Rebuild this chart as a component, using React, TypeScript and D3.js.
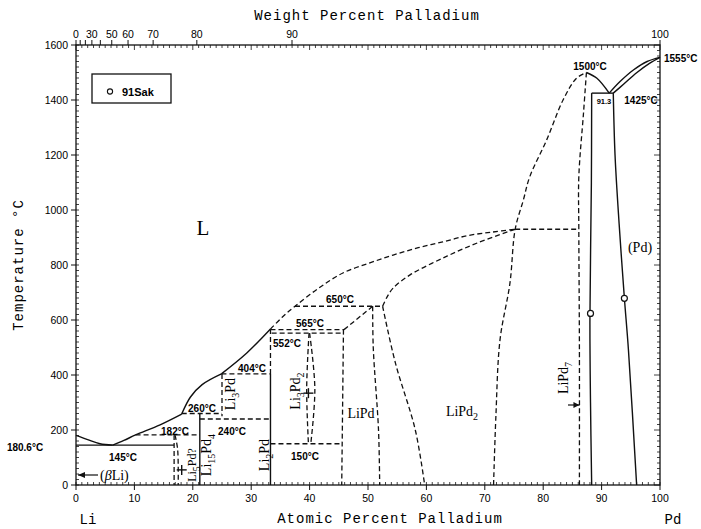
import React from 'react';
import * as d3 from 'd3';

type P = [number, number];

// ---- axis ticks ----
const tempTicks = [0, 200, 400, 600, 800, 1000, 1200, 1400, 1600];
const atTicks = [0, 10, 20, 30, 40, 50, 60, 70, 80, 90, 100];
const wtTicks = [0, 10, 20, 30, 40, 50, 60, 70, 80, 90, 100];
const wtLabels = [0, 30, 50, 60, 70, 80, 90, 100];

// ---- phase boundaries (at.% Pd, °C) ----
const liqLiEnd: P[] = [[0, 180.6], [2, 165], [4.1, 150], [6.3, 145]];
const liqA: P[] = [[6.3, 145], [8.2, 162], [10.2, 182], [14.4, 219], [18.1, 258]];
const liqB: P[] = [[18.1, 258], [19.6, 320], [21.6, 365], [24.9, 404]];
const liqC: P[] = [[24.9, 404], [29.2, 479], [33.3, 567]];
const liqUpper: P[] = [[33.3, 567], [35.3, 610], [37.5, 650], [41.5, 715], [45.7, 771], [50.1, 806], [54.3, 836], [58.6, 863], [62.8, 884], [67.1, 907], [71.4, 920], [75.2, 930]];
const liqLower: P[] = [[52.5, 650], [53.3, 685], [54.3, 716], [57.2, 764], [62.8, 825], [68.7, 880], [75.2, 930]];
const domeLeft: P[] = [[71.5, 0], [71.9, 250], [72.6, 527], [74.3, 733], [75.2, 930], [76.6, 1036], [77.7, 1121], [80.6, 1255], [83.4, 1400], [85.7, 1479], [87.4, 1500]];
const domeInner: P[] = [[87.4, 1500], [86.9, 1352], [86.1, 1121], [86.1, 930], [86.2, 500], [86.2, 0]];
const peakRight: P[] = [[87.4, 1500], [89.2, 1479], [91.3, 1425]];
const pdLiquidus: P[] = [[91.3, 1425], [93.2, 1468], [95.5, 1510], [97.8, 1540], [100, 1555]];
const pdSolidus: P[] = [[92, 1425], [93.8, 1458], [96, 1499], [98.2, 1533], [100, 1555]];
const lipd7Right: P[] = [[88.3, 1425], [88.25, 1100], [88.0, 600], [88.1, 300], [88.3, 0]];
const pdSolvus: P[] = [[92, 1425], [92.3, 1200], [93.0, 950], [93.9, 680], [94.6, 490], [96, 0]];
const lipdRight: P[] = [[50.8, 650], [50.9, 500], [51.8, 200], [52, 0]];
const lipd2Left: P[] = [[52.5, 650], [54.7, 443], [58.1, 200], [59.7, 0]];
const li5pdRight: P[] = [[16.95, 182], [17.4, 130], [17.5, 0]];
const li3pd2Left: P[] = [[39.9, 552], [39.5, 350], [39.8, 150]];
const li3pd2Right: P[] = [[40.0, 552], [40.9, 350], [40.2, 150]];

// straight segments [x1,T1,x2,T2]
const solidSegs: [number, number, number, number][] = [
  [0, 145, 16.8, 145],
  [88.3, 1425, 92, 1425],
  [21.2, 258, 21.2, 0],
  [33.3, 404, 33.3, 0],
];
const dashedSegs: [number, number, number, number][] = [
  [10.2, 182, 21.2, 182],
  [18.1, 260, 25, 260],
  [21.2, 240, 33.3, 240],
  [24.9, 404, 33.3, 404],
  [33.3, 565, 45.9, 565],
  [33.5, 552, 45.6, 552],
  [33.3, 150, 45.6, 150],
  [37.5, 650, 52.5, 650],
  [75.2, 930, 86.1, 930],
  [16.8, 182, 16.8, 0],
  [25, 404, 25, 250],
  [33.3, 567, 33.3, 404],
  [45.8, 565, 45.5, 0],
  [45.9, 565, 50.8, 650],
];

const dataPoints: P[] = [[88.1, 624], [93.9, 679]];
const crossMarks: P[] = [[18.1, 55], [39.8, 334]];

const W = 701, H = 529;
const x = d3.scaleLinear().domain([0, 100]).range([76, 660]);
const y = d3.scaleLinear().domain([0, 1600]).range([485, 45]);

// weight % -> atomic % (Li 6.941, Pd 106.42)
const wtToAt = (w: number) => {
  const a = w / 106.42, b = (100 - w) / 6.941;
  return (100 * a) / (a + b);
};

const curve = d3.line<P>().x(d => x(d[0])).y(d => y(d[1])).curve(d3.curveCatmullRom.alpha(0.5));

const serif = '"Liberation Serif", "DejaVu Serif", serif';
const sans = '"Liberation Sans", Arial, sans-serif';
const mono = '"Liberation Mono", "DejaVu Sans Mono", monospace';
const DASH = '5,3';

// chemical formula: alternating normal / subscript parts
function Chem({ parts }: { parts: string[] }) {
  const out: React.ReactNode[] = [];
  let shifted = false;
  parts.forEach((p, i) => {
    const isSub = i % 2 === 1;
    if (!p) return;
    if (isSub) {
      out.push(<tspan key={i} dy={shifted ? 0 : 4} fontSize="10">{p}</tspan>);
      shifted = true;
    } else {
      out.push(<tspan key={i} dy={shifted ? -4 : 0}>{p}</tspan>);
      shifted = false;
    }
  });
  return <>{out}</>;
}

export default function App() {
  const minorAt = d3.range(0, 101, 1);
  const minorT = d3.range(0, 1601, 20);
  const stroke = '#111';
  return (
    <svg width={W} height={H} style={{ position: 'absolute', left: 0, top: 0, background: '#fff' }}>
      <rect x={0} y={0} width={W} height={H} fill="#fff" />
      {/* frame */}
      <rect x={x(0)} y={y(1600)} width={x(100) - x(0)} height={y(0) - y(1600)} fill="none" stroke={stroke} strokeWidth={1.3} />

      {/* bottom axis */}
      {minorAt.map(v => (
        <line key={'bm' + v} x1={x(v)} x2={x(v)} y1={y(0)} y2={y(0) - 3} stroke={stroke} strokeWidth={0.8} />
      ))}
      {atTicks.map(v => (
        <g key={'bt' + v}>
          <line x1={x(v)} x2={x(v)} y1={y(0)} y2={y(0) + 5} stroke={stroke} strokeWidth={1} />
          <text x={x(v)} y={502} fontSize={10.5} fontFamily={sans} textAnchor="middle">{v}</text>
        </g>
      ))}

      {/* top axis */}
      {minorAt.map(v => (
        <line key={'tm' + v} x1={x(v)} x2={x(v)} y1={y(1600)} y2={y(1600) + (v % 10 === 0 ? 5 : 3)} stroke={stroke} strokeWidth={0.8} />
      ))}
      {wtTicks.map(w => (
        <line key={'tw' + w} x1={x(wtToAt(w))} x2={x(wtToAt(w))} y1={y(1600)} y2={y(1600) - 5} stroke={stroke} strokeWidth={1} />
      ))}
      {wtLabels.map(w => (
        <text key={'twl' + w} x={x(wtToAt(w))} y={38} fontSize={10.5} fontFamily={sans} textAnchor="middle">{w}</text>
      ))}

      {/* left axis */}
      {minorT.map(v => (
        <line key={'lm' + v} x1={x(0)} x2={x(0) + 3} y1={y(v)} y2={y(v)} stroke={stroke} strokeWidth={0.8} />
      ))}
      {tempTicks.map(v => (
        <g key={'lt' + v}>
          <line x1={x(0) - 5} x2={x(0)} y1={y(v)} y2={y(v)} stroke={stroke} strokeWidth={1} />
          <text x={68} y={y(v) + 3.5} fontSize={10.5} fontFamily={sans} textAnchor="end">{v}</text>
        </g>
      ))}
      {/* right axis */}
      {minorT.map(v => (
        <line key={'rm' + v} x1={x(100)} x2={x(100) - (v % 200 === 0 ? 6 : 3)} y1={y(v)} y2={y(v)} stroke={stroke} strokeWidth={0.8} />
      ))}

      {/* axis titles */}
      <text x={367} y={20} fontSize={14} fontFamily={mono} letterSpacing={1} textAnchor="middle">Weight Percent Palladium</text>
      <text x={390} y={523} fontSize={14} fontFamily={mono} letterSpacing={1} textAnchor="middle">Atomic Percent Palladium</text>
      <text x={88} y={524} fontSize={14} fontFamily={mono} textAnchor="middle">Li</text>
      <text x={673} y={524} fontSize={14} fontFamily={mono} textAnchor="middle">Pd</text>
      <text transform="translate(23,265) rotate(-90)" fontSize={14} fontFamily={mono} letterSpacing={1} textAnchor="middle">Temperature °C</text>

      {/* solid curves */}
      {[liqLiEnd, liqA, liqB, liqC, peakRight, pdLiquidus, pdSolidus, lipd7Right, pdSolvus].map((c, i) => (
        <path key={'sc' + i} d={curve(c) || ''} fill="none" stroke={stroke} strokeWidth={1.4} />
      ))}
      {solidSegs.map((s, i) => (
        <line key={'ss' + i} x1={x(s[0])} y1={y(s[1])} x2={x(s[2])} y2={y(s[3])} stroke={stroke} strokeWidth={1.4} />
      ))}
      {/* dashed curves */}
      {[liqUpper, liqLower, domeLeft, domeInner, lipdRight, lipd2Left, li5pdRight, li3pd2Left, li3pd2Right].map((c, i) => (
        <path key={'dc' + i} d={curve(c) || ''} fill="none" stroke={stroke} strokeWidth={1.3} strokeDasharray={DASH} />
      ))}
      {dashedSegs.map((s, i) => (
        <line key={'ds' + i} x1={x(s[0])} y1={y(s[1])} x2={x(s[2])} y2={y(s[3])} stroke={stroke} strokeWidth={1.3} strokeDasharray={DASH} />
      ))}

      {/* data points */}
      {dataPoints.map((p, i) => (
        <circle key={'dp' + i} cx={x(p[0])} cy={y(p[1])} r={3} fill="#fff" stroke={stroke} strokeWidth={1.2} />
      ))}
      {crossMarks.map((p, i) => (
        <g key={'cm' + i} stroke={stroke} strokeWidth={1.4}>
          <line x1={x(p[0]) - 5} x2={x(p[0]) + 5} y1={y(p[1])} y2={y(p[1])} />
          <line x1={x(p[0])} x2={x(p[0])} y1={y(p[1]) - 5} y2={y(p[1]) + 5} />
        </g>
      ))}

      {/* legend */}
      <rect x={92} y={74} width={79} height={29} fill="#fff" stroke={stroke} strokeWidth={1.3} />
      <circle cx={110} cy={91.5} r={2.6} fill="#fff" stroke={stroke} strokeWidth={1.1} />
      <text x={122} y={96} fontSize={11} fontFamily={sans} fontWeight="bold">91Sak</text>

      {/* temperature labels */}
      <g fontFamily={sans} fontSize={10} fontWeight="bold" textAnchor="middle">
        <text x={25} y={451}>180.6°C</text>
        <text x={123} y={461}>145°C</text>
        <text x={175} y={435}>182°C</text>
        <text x={202} y={412}>260°C</text>
        <text x={232} y={435}>240°C</text>
        <text x={252} y={372}>404°C</text>
        <text x={310} y={327}>565°C</text>
        <text x={287} y={347}>552°C</text>
        <text x={305} y={460}>150°C</text>
        <text x={340} y={303}>650°C</text>
        <text x={590} y={70}>1500°C</text>
        <text x={641} y={104}>1425°C</text>
        <text x={664} y={62} textAnchor="start">1555°C</text>
        <text x={604} y={104} fontSize={7.5}>91.3</text>
      </g>

      {/* phase labels */}
      <g fontFamily={serif} fontSize={14}>
        <text x={203} y={235} fontSize={21} textAnchor="middle">L</text>
        <text x={640} y={252} textAnchor="middle">(Pd)</text>
        <text x={361} y={418} textAnchor="middle">LiPd</text>
        <text x={462} y={416} textAnchor="middle"><Chem parts={['LiPd', '2']} /></text>
        <text transform="translate(300,391) rotate(-90)" textAnchor="middle"><Chem parts={['Li', '3', 'Pd', '2']} /></text>
        <text transform="translate(269,455) rotate(-90)" textAnchor="middle"><Chem parts={['Li', '2', 'Pd']} /></text>
        <text transform="translate(211,455) rotate(-90)" textAnchor="middle"><Chem parts={['Li', '15', 'Pd', '4']} /></text>
        <text transform="translate(196,465) rotate(-90)" textAnchor="middle" fontSize={12}><Chem parts={['Li', '5', 'Pd?']} /></text>
        <text transform="translate(235,394) rotate(-90)" textAnchor="middle"><Chem parts={['Li', '3', 'Pd']} /></text>
        <text transform="translate(568,378) rotate(-90)" textAnchor="middle"><Chem parts={['LiPd', '7']} /></text>
        <text x={100} y={480}>(<tspan fontStyle="italic">β</tspan>Li)</text>
      </g>
      {/* arrows */}
      <line x1={x(0) + 2} x2={98} y1={475} y2={475} stroke={stroke} strokeWidth={1.2} />
      <path d={`M${x(0) + 2},475 l7,-3 l0,6 z`} fill={stroke} />
      <line x1={568} x2={x(86.2)} y1={405} y2={405} stroke={stroke} strokeWidth={1.2} />
      <path d={`M${x(86.2)},405 l-6,-3 l0,6 z`} fill={stroke} />
    </svg>
  );
}
